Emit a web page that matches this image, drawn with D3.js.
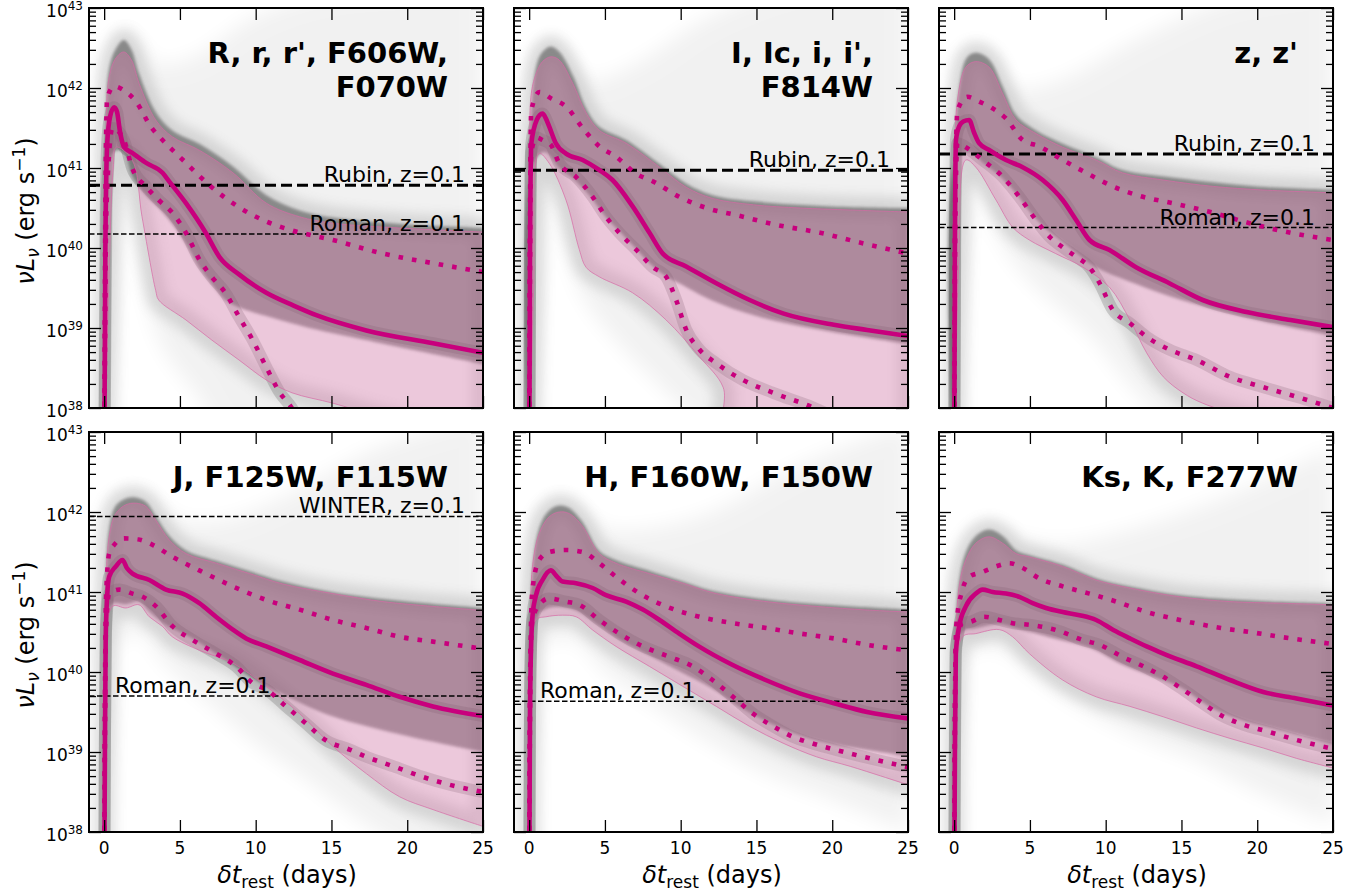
<!DOCTYPE html>
<html><head><meta charset="utf-8">
<script src="https://cdn.jsdelivr.net/npm/d3@7"></script>
<style>body{margin:0;background:#fff}svg{display:block}text{font-family:"DejaVu Sans",sans-serif;fill:#000}</style>
</head><body><svg id="c" width="1369" height="894"></svg>
<script>
// ---------- DATA (values are log10 of nuL_nu in erg/s, vs rest-frame days) ----------
const panelTitles = [["R, r, r', F606W,","F070W"],["I, Ic, i, i',","F814W"],["z, z'"],["J, F125W, F115W"],["H, F160W, F150W"],["Ks, K, F277W"]];
const xTicks = [0,5,10,15,20,25];
const yDecades = [38,39,40,41,42,43];

// R band
const medR=[[0,37],[0.08,40.0],[0.2,41.3],[0.4,41.65],[0.66,41.76],[0.85,41.7],[1.05,41.45],[1.32,41.26],[1.85,41.19],[2.8,41.06],[3.85,40.94],[4.3,40.83],[5.4,40.56],[6.7,40.19],[7.6,39.89],[8.9,39.67],[10.7,39.44],[12.5,39.28],[14,39.16],[17.3,38.97],[21.7,38.81],[25,38.69]];
const hiR=[[0,37],[0.1,41.0],[0.2,41.87],[0.66,42.02],[1.3,41.97],[2.1,41.83],[3.1,41.51],[3.85,41.35],[5.2,41.1],[7.1,40.76],[8.9,40.51],[10.7,40.33],[12.4,40.22],[15.1,40.1],[18.4,39.93],[21.7,39.81],[25,39.7]];
const loR=[[0,37],[0.15,40.5],[0.55,41.5],[1.3,41.35],[1.85,41.0],[2.8,40.76],[3.6,40.6],[4.5,40.44],[5.4,40.19],[6.3,39.85],[7.1,39.64],[8.0,39.44],[8.9,39.14],[9.8,38.85],[10.7,38.51],[11.6,38.19],[12.35,38.01],[13,37.8]];
const pinkHiR=[[0,37],[0.1,41.0],[0.33,42.14],[0.8,42.38],[1.3,42.45],[1.8,42.35],[2.3,42.06],[3.4,41.6],[4.5,41.39],[6.3,41.22],[8.5,40.94],[10.7,40.56],[12.9,40.39],[15.1,40.31],[19.5,40.25],[25,40.2]];
const pinkLoR=[[0,37],[0.3,39.5],[0.6,41.0],[0.8,41.26],[1.85,41.1],[2.5,40.39],[3.4,39.47],[3.6,39.35],[5.4,39.1],[7.1,38.85],[8.9,38.6],[10.7,38.35],[12.4,38.19],[15.1,38.06],[18,37.9],[25,37.6]];
const coreHiR=[[0,37],[0.1,41.2],[0.33,42.25],[0.8,42.5],[1.3,42.6],[1.8,42.48],[2.3,42.18],[3.4,41.7],[4.5,41.47],[6.3,41.3],[8.5,41.02],[10.7,40.66],[12.9,40.47],[15.1,40.38],[19.5,40.3],[25,40.25]];
const coreLoR=[[0,37],[0.2,40.5],[0.6,41.2],[1.3,41.2],[1.85,40.9],[2.8,40.65],[3.6,40.5],[4.5,40.3],[5.4,40.05],[6.3,39.75],[7.1,39.55],[8,39.35],[9,39.25],[10.7,39.15],[14,38.98],[18,38.82],[25,38.55]];
const envHiR=[[0,39],[0.15,41.8],[0.6,42.4],[1.3,42.75],[2.2,42.6],[3.5,42.3],[6,42.4],[10,42.9],[15,43.2],[25,43.3]];
const envLoR=[[0,37],[0.3,38.5],[0.7,40.0],[1.2,40.8],[1.6,40.7],[2.2,40.2],[3,39.2],[4,38.7],[6,38.2],[8,37.7],[25,37]];

// I band
const medI=[[0,37],[0.06,40.0],[0.14,41.3],[0.5,41.6],[0.88,41.68],[1.1,41.62],[1.32,41.52],[1.76,41.31],[2.43,41.18],[3.53,41.1],[4.63,40.975],[5.5,40.85],[6.83,40.52],[7.94,40.19],[8.82,39.93],[10.36,39.77],[12.35,39.56],[14.55,39.35],[16.8,39.18],[20.1,39.04],[22.3,38.975],[25,38.9]];
const hiI=[[0,37],[0.06,40.5],[0.14,41.72],[0.69,41.95],[1.46,41.87],[2.43,41.77],[3.53,41.5],[4.63,41.27],[5.74,41.14],[7.06,40.93],[8.2,40.83],[9.9,40.64],[11.7,40.5],[13.7,40.41],[16.3,40.29],[19.2,40.19],[22,40.06],[25,39.93]];
const loI=[[0,37],[0.08,40.5],[0.14,41.2],[0.5,41.38],[0.88,41.35],[1.43,41.29],[1.98,41.06],[3.09,40.89],[4.19,40.64],[5.07,40.39],[5.95,40.19],[7.06,39.98],[8.16,39.76],[9.04,39.64],[9.7,39.35],[10.36,38.98],[11.24,38.73],[12.35,38.56],[14.1,38.35],[16.1,38.19],[18.7,38.01],[20,37.9]];
const pinkHiI=[[0,37],[0.06,40.8],[0.14,41.93],[0.5,42.2],[0.88,42.33],[1.43,42.39],[1.98,42.35],[2.87,42.06],[3.75,41.69],[4.63,41.47],[6.4,41.31],[8.6,41.01],[10.36,40.76],[12.1,40.62],[14.8,40.54],[17.9,40.5],[21.2,40.475],[25,40.45]];
const pinkLoI=[[0,37],[0.3,39.5],[0.66,41.18],[1.32,41.06],[2.43,40.6],[3.31,39.98],[3.75,39.76],[4.63,39.64],[6.83,39.44],[9.04,39.1],[11.24,38.64],[12.8,38.26],[13.1,37.7],[25,37.5]];
const coreHiI=[[0,37],[0.1,41.5],[0.5,42.3],[0.88,42.45],[1.43,42.52],[2,42.45],[2.9,42.15],[3.75,41.75],[4.6,41.52],[6.4,41.35],[8.6,41.05],[10.4,40.8],[12.1,40.66],[15,40.58],[20,40.52],[25,40.5]];
const coreLoI=[[0,37],[0.14,41.0],[1,41.2],[2,41.0],[3,40.85],[4,40.65],[5,40.4],[6,40.2],[7,40.0],[8,39.8],[9,39.65],[10,39.55],[12,39.35],[15,39.15],[20,38.95],[25,38.8]];
const envHiI=[[0,39],[0.15,41.8],[0.8,42.5],[1.4,42.65],[2.5,42.4],[4,42.1],[7,42.3],[12,42.9],[18,43.3],[25,43.3]];
const envLoI=[[0,37],[0.3,38.5],[0.8,40.3],[1.5,40.8],[2.3,40.1],[3.5,39.4],[5,39.0],[8,38.4],[11,37.9],[25,37]];

// z band
const medZ=[[0,37],[0.05,40.0],[0.12,41.35],[0.33,41.52],[0.6,41.58],[0.99,41.6],[1.3,41.45],[1.65,41.31],[2.31,41.225],[3.42,41.1],[4.52,41.01],[5.84,40.85],[7.16,40.6],[8.05,40.35],[8.93,40.1],[10.25,39.975],[12,39.76],[14.2,39.56],[16.4,39.35],[19.3,39.2],[22.2,39.1],[25,39.01]];
const hiZ=[[0,37],[0.06,40.5],[0.22,41.72],[0.88,41.89],[1.65,41.83],[2.5,41.75],[3.42,41.62],[4.52,41.35],[5.62,41.27],[7.16,41.1],[8.71,40.94],[10.47,40.77],[12.46,40.64],[14.4,40.56],[17.1,40.44],[19.5,40.31],[22.2,40.19],[25,40.1]];
const loZ=[[0,37],[0.08,40.5],[0.22,41.31],[0.77,41.26],[1.87,41.1],[3.2,40.89],[4.3,40.64],[5.4,40.35],[6.3,40.14],[7.16,40.01],[8.05,39.89],[8.93,39.76],[9.6,39.56],[10.47,39.225],[11.6,39.06],[12.7,38.89],[14.2,38.73],[16,38.6],[18.2,38.39],[20.4,38.26],[22.6,38.14],[25,38.0]];
const pinkHiZ=[[0,37],[0.06,40.8],[0.22,41.85],[0.77,42.26],[1.43,42.33],[2.31,42.26],[3.2,41.93],[4.08,41.6],[5.4,41.43],[7.16,41.26],[9.37,41.1],[11.1,40.94],[13.8,40.85],[17.1,40.77],[20.4,40.725],[25,40.69]];
const pinkLoZ=[[0,37],[0.3,39.8],[0.77,41.1],[1.43,41.01],[2.76,40.6],[3.86,40.26],[4.96,40.1],[6.7,39.93],[8.5,39.76],[10.25,39.51],[11.6,39.1],[12.7,38.69],[13.8,38.39],[15.1,38.19],[16.4,38.06],[20,37.85],[25,37.7]];
const coreHiZ=[[0,37],[0.1,41.3],[0.3,41.95],[0.8,42.37],[1.4,42.44],[2.3,42.36],[3.2,42.02],[4.1,41.66],[5.4,41.47],[7.2,41.3],[9.4,41.13],[11,40.98],[14,40.89],[20,40.77],[25,40.73]];
const coreLoZ=[[0,37],[0.12,41.1],[1,41.2],[2,41.05],[3,40.9],[4,40.7],[5,40.45],[6,40.25],[7,40.1],[8,39.95],[9,39.8],[10,39.7],[12,39.55],[15,39.35],[20,39.1],[25,38.9]];
const envHiZ=[[0,39],[0.15,41.8],[0.8,42.4],[1.4,42.55],[2.4,42.4],[4,42.0],[7,42.1],[12,42.6],[18,43.1],[25,43.3]];
const envLoZ=[[0,37],[0.3,38.5],[0.8,40.5],[1.5,40.9],[2.5,40.3],[4,39.8],[6,39.4],[9,38.9],[12,38.2],[15,37.7],[25,37]];

// J band
const medJ=[[0,37],[0.05,39.0],[0.1,40.4],[0.2,40.95],[0.33,41.19],[0.77,41.32],[1.21,41.4],[1.5,41.3],[1.87,41.23],[2.98,41.15],[4.08,41.03],[5.18,40.98],[6.28,40.86],[7.38,40.69],[8.49,40.53],[9.37,40.42],[10.7,40.32],[12.9,40.15],[15.1,39.98],[17.3,39.84],[19.5,39.69],[21.7,39.57],[25,39.45]];
const hiJ=[[0,37],[0.05,39.5],[0.12,40.9],[0.33,41.48],[0.66,41.59],[1.32,41.67],[2.2,41.66],[3.2,41.59],[4.5,41.44],[6.28,41.27],[8.49,41.07],[10.7,40.9],[12.9,40.78],[15.1,40.65],[17.3,40.55],[19.5,40.44],[21.7,40.38],[25,40.29]];
const loJ=[[0,37],[0.05,39.2],[0.12,40.5],[0.33,40.98],[1.0,41.03],[1.87,40.98],[2.54,40.94],[3.42,40.82],[4.52,40.57],[5.84,40.4],[7.38,40.23],[8.71,40.07],[9.81,39.86],[10.7,39.78],[12.0,39.57],[13.3,39.36],[14.6,39.15],[16.2,39.03],[17.3,38.94],[19.1,38.82],[21,38.69],[22.8,38.59],[25,38.5]];
const pinkHiJ=[[0,37],[0.06,40.5],[0.33,41.69],[0.77,41.98],[1.43,42.09],[2.1,42.11],[2.76,42.07],[3.4,41.9],[4.3,41.65],[5.4,41.48],[7.4,41.36],[9.6,41.23],[11.8,41.1],[15.1,40.98],[18.4,40.88],[21.7,40.82],[25,40.77]];
const pinkLoJ=[[0,37],[0.15,39.5],[0.55,40.82],[1.43,40.8],[2.3,40.84],[2.98,40.69],[3.85,40.57],[4.5,40.44],[6.3,40.27],[8.5,40.11],[10.7,39.82],[12.9,39.48],[15.1,39.07],[17.3,38.73],[19.5,38.44],[21.7,38.28],[25,38.07]];
const coreHiJ=[[0,37],[0.1,41.0],[0.33,41.8],[0.77,42.08],[1.43,42.17],[2.1,42.18],[2.8,42.12],[3.4,41.95],[4.3,41.7],[5.4,41.52],[7.4,41.39],[9.6,41.26],[11.8,41.13],[15,41.0],[20,40.88],[25,40.8]];
const coreLoJ=[[0,37],[0.1,40.3],[0.5,40.85],[1.5,40.85],[2.3,40.88],[3,40.75],[4,40.6],[6,40.4],[8,40.15],[10,39.9],[12,39.7],[15,39.45],[20,39.2],[25,39.0]];
const envHiJ=[[0,39],[0.2,41.6],[0.8,42.15],[2,42.3],[3,42.2],[5,41.9],[8,41.9],[12,42.2],[18,42.8],[25,43.2]];
const envLoJ=[[0,37],[0.2,39.0],[0.6,40.3],[2.3,40.5],[4,40.1],[7,39.6],[10,39.1],[13,38.7],[18,38.0],[22,37.6],[25,37.4]];

// H band
const medH=[[0,37],[0.05,39.3],[0.1,40.1],[0.22,40.7],[0.44,40.95],[0.88,41.15],[1.43,41.27],[1.8,41.2],[2.2,41.13],[3.1,41.11],[4.19,41.05],[5.07,40.96],[6.4,40.88],[7.5,40.78],[8.6,40.65],[9.9,40.48],[11.2,40.32],[13.4,40.09],[15.6,39.9],[17.9,39.73],[20.1,39.61],[22.3,39.5],[25,39.42]];
const hiH=[[0,37],[0.05,39.5],[0.1,40.4],[0.22,41.03],[0.66,41.4],[1.32,41.5],[2.43,41.525],[3.53,41.5],[4.63,41.36],[5.73,41.19],[7.3,40.98],[9.04,40.82],[11.24,40.69],[13.45,40.61],[15.65,40.55],[17.9,40.48],[20.1,40.42],[22.3,40.34],[25,40.27]];
const loH=[[0,37],[0.05,39.4],[0.1,40.2],[0.22,40.65],[0.66,40.84],[1.32,40.92],[2.43,40.88],[3.31,40.84],[4.63,40.65],[5.95,40.48],[7.5,40.32],[9.26,40.19],[10.8,40.07],[12.1,39.9],[13.45,39.69],[14.77,39.48],[16.1,39.32],[17.4,39.19],[19,39.09],[21.2,38.98],[25,38.81]];
const pinkHiH=[[0,37],[0.06,40.3],[0.22,41.32],[0.66,41.73],[1.32,41.94],[1.98,42.0],[2.65,41.98],[3.53,41.82],[4.63,41.48],[5.73,41.36],[7.94,41.23],[10.14,41.11],[12.35,40.98],[15.65,40.88],[18.96,40.82],[22.3,40.775],[25,40.75]];
const pinkLoH=[[0,37],[0.15,39.8],[0.44,40.65],[1.1,40.69],[2.2,40.71],[3.1,40.69],[4.19,40.525],[5.73,40.32],[7.94,40.07],[10.14,39.82],[12.35,39.57],[14.55,39.32],[16.76,39.11],[18.96,38.94],[21.2,38.82],[25,38.59]];
const coreHiH=[[0,37],[0.1,40.9],[0.66,41.8],[1.32,42.02],[2,42.08],[2.65,42.05],[3.5,41.88],[4.6,41.52],[5.7,41.4],[8,41.26],[10,41.14],[12,41.02],[15.6,40.91],[19,40.85],[25,40.78]];
const coreLoH=[[0,37],[0.1,40.2],[0.5,40.7],[1.3,40.8],[2.5,40.8],[3.3,40.75],[4.6,40.58],[6,40.4],[8,40.2],[10,40.0],[12,39.8],[14,39.55],[16,39.35],[18,39.2],[20,39.1],[25,38.95]];
const envHiH=[[0,39],[0.2,41.5],[0.8,42.0],[2,42.2],[3,42.1],[5,41.8],[8,41.8],[12,42.0],[18,42.6],[25,43.1]];
const envLoH=[[0,37],[0.2,39.2],[0.6,40.3],[3,40.4],[5,40.0],[8,39.6],[12,39.1],[16,38.7],[20,38.4],[25,38.0]];

// Ks band
const medK=[[0,37],[0.05,39.0],[0.11,40.23],[0.33,40.57],[0.77,40.82],[1.43,40.98],[1.87,41.03],[2.54,41.0],[3.42,40.98],[4.3,40.94],[5.18,40.86],[6.06,40.8],[7.16,40.75],[8.27,40.71],[9.37,40.65],[10.5,40.525],[11.6,40.42],[12.7,40.32],[13.8,40.23],[16,40.07],[18.2,39.9],[20.4,39.75],[22.6,39.67],[25,39.58]];
const hiK=[[0,37],[0.05,39.5],[0.15,40.6],[0.55,41.03],[0.99,41.19],[1.87,41.25],[2.76,41.32],[3.64,41.36],[4.52,41.3],[5.62,41.17],[7.16,41.07],[8.93,40.98],[10.7,40.88],[12.7,40.75],[14.9,40.65],[17.6,40.55],[19.5,40.5],[21.5,40.44],[25,40.35]];
const loK=[[0,37],[0.05,39.3],[0.11,40.3],[0.55,40.61],[1.1,40.63],[1.98,40.69],[2.98,40.65],[3.86,40.61],[4.96,40.59],[6.72,40.525],[8.49,40.4],[9.6,40.34],[11.1,40.19],[12.5,40.07],[13.8,39.94],[15.1,39.78],[16.4,39.61],[17.8,39.44],[19.1,39.34],[20.8,39.25],[22.6,39.15],[25,39.04]];
const pinkHiK=[[0,37],[0.06,40.0],[0.33,41.07],[0.77,41.4],[1.43,41.61],[2.3,41.69],[3.2,41.61],[4.08,41.48],[4.96,41.44],[7.16,41.32],[9.37,41.15],[11.6,41.05],[14.9,40.94],[18.2,40.88],[21.5,40.86],[25,40.84]];
const pinkLoK=[[0,37],[0.15,39.6],[0.55,40.44],[1.43,40.48],[2.98,40.53],[3.86,40.44],[4.96,40.23],[7.16,39.9],[9.37,39.69],[11.6,39.57],[13.8,39.44],[16,39.3],[18.2,39.17],[20.4,39.05],[22.6,38.92],[25,38.8]];
const coreHiK=[[0,37],[0.1,40.5],[0.33,41.15],[0.77,41.5],[1.43,41.7],[2.3,41.78],[3.2,41.7],[4.1,41.52],[5,41.46],[7.2,41.34],[9.4,41.17],[11.6,41.07],[15,40.96],[20,40.89],[25,40.86]];
const coreLoK=[[0,37],[0.1,40.2],[0.5,40.5],[1.5,40.55],[3,40.6],[4,40.55],[5,40.5],[7,40.4],[9,40.3],[11,40.1],[13,39.95],[15,39.8],[17,39.55],[19,39.4],[21,39.3],[25,39.1]];
const envHiK=[[0,39],[0.2,41.0],[1,41.6],[2.5,41.85],[4,41.7],[7,41.6],[12,41.8],[18,42.2],[25,42.8]];
const envLoK=[[0,37],[0.2,39.5],[0.6,40.2],[3,40.3],[5,40.0],[8,39.6],[12,39.2],[16,38.9],[20,38.5],[25,38.1]];

// detection limits (erg/s)
const limitsR=[{name:"Rubin, z=0.1",value:6.1e40,thick:true,left:false},{name:"Roman, z=0.1",value:1.5e40,thick:false,left:false}];
const limitsI=[{name:"Rubin, z=0.1",value:9.4e40,thick:true,left:false}];
const limitsZ=[{name:"Rubin, z=0.1",value:1.5e41,thick:true,left:false},{name:"Roman, z=0.1",value:1.8e40,thick:false,left:false}];
const limitsJ=[{name:"WINTER, z=0.1",value:8.8e41,thick:false,left:false},{name:"Roman, z=0.1",value:5.0e39,thick:false,left:true}];
const limitsH=[{name:"Roman, z=0.1",value:4.3e39,thick:false,left:true}];
const limitsK=[];

const panels=[
 {med:medR,hi:hiR,lo:loR,pinkHi:pinkHiR,pinkLo:pinkLoR,coreHi:coreHiR,coreLo:coreLoR,envHi:envHiR,envLo:envLoR,limits:limitsR},
 {med:medI,hi:hiI,lo:loI,pinkHi:pinkHiI,pinkLo:pinkLoI,coreHi:coreHiI,coreLo:coreLoI,envHi:envHiI,envLo:envLoI,limits:limitsI},
 {med:medZ,hi:hiZ,lo:loZ,pinkHi:pinkHiZ,pinkLo:pinkLoZ,coreHi:coreHiZ,coreLo:coreLoZ,envHi:envHiZ,envLo:envLoZ,limits:limitsZ},
 {med:medJ,hi:hiJ,lo:loJ,pinkHi:pinkHiJ,pinkLo:pinkLoJ,coreHi:coreHiJ,coreLo:coreLoJ,envHi:envHiJ,envLo:envLoJ,limits:limitsJ},
 {med:medH,hi:hiH,lo:loH,pinkHi:pinkHiH,pinkLo:pinkLoH,coreHi:coreHiH,coreLo:coreLoH,envHi:envHiH,envLo:envLoH,limits:limitsH},
 {med:medK,hi:hiK,lo:loK,pinkHi:pinkHiK,pinkLo:pinkLoK,coreHi:coreHiK,coreLo:coreLoK,envHi:envHiK,envLo:envLoK,limits:limitsK}
];

// ---------- LAYOUT ----------
const svg=d3.select("#c");
const W=394,H=400;
const colX=[89,514,939], rowY=[8,432];
const MAG="#c8007d";
const x=d3.scaleLinear().domain([-1,25]).range([0,W]);
const y=d3.scaleLog().domain([1e38,1e43]).range([H,0]);
const px=d=>x(d[0]), py=d=>y(Math.pow(10,d[1]));
const lineM=d3.line().x(px).y(py).curve(d3.curveMonotoneX);
const lineC=d3.line().x(px).y(py).curve(d3.curveCatmullRom.alpha(0.5));
const band=(up,lo)=>lineC(up)+"L"+lineC(lo.slice().reverse()).slice(1)+"Z";

const defs=svg.append("defs");
const f1=defs.append("filter").attr("id","blurEnv").attr("x","-20%").attr("y","-20%").attr("width","140%").attr("height","140%");
f1.append("feGaussianBlur").attr("stdDeviation",10);
const f2=defs.append("filter").attr("id","blurHalo").attr("x","-20%").attr("y","-20%").attr("width","140%").attr("height","140%");
f2.append("feGaussianBlur").attr("stdDeviation",6);
const f3=defs.append("filter").attr("id","blurCore").attr("x","-10%").attr("y","-10%").attr("width","120%").attr("height","120%");
f3.append("feGaussianBlur").attr("stdDeviation",1.5);
defs.append("clipPath").attr("id","clipP").append("rect").attr("width",W).attr("height",H);

const majors=yDecades.map(d=>Math.pow(10,d));
const minors=[];
yDecades.slice(0,-1).forEach(d=>{for(let m=2;m<10;m++)minors.push(m*Math.pow(10,d));});

panels.forEach((p,i)=>{
  const col=i%3,row=Math.floor(i/3);
  const g=svg.append("g").attr("transform",`translate(${colX[col]},${rowY[row]})`);
  const gc=g.append("g").attr("clip-path","url(#clipP)");
  // faint spaghetti envelope
  gc.append("path").attr("d",band(p.envHi,p.envLo)).attr("fill","#000").attr("opacity",0.05).attr("filter","url(#blurEnv)");
  // halo of denser tracks just outside the band
  gc.append("path").attr("d",band(p.coreHi,p.pinkLo)).attr("fill","none").attr("stroke","#666").attr("stroke-width",22).attr("opacity",0.2).attr("filter","url(#blurHalo)");
  // dense core of tracks
  gc.append("path").attr("d",band(p.coreHi,p.coreLo)).attr("fill","#4a4a4a").attr("opacity",0.55).attr("filter","url(#blurCore)");
  // dense strands following the median and lower curves
  [p.med,p.lo].forEach(s=>gc.append("path").attr("d",lineM(s)).attr("fill","none").attr("stroke","#4a4a4a").attr("stroke-width",12).attr("opacity",0.22));
  // percentile band
  gc.append("path").attr("d",band(p.pinkHi,p.pinkLo)).attr("fill","rgb(225,120,175)").attr("fill-opacity",0.34).attr("stroke","rgb(215,105,165)").attr("stroke-opacity",0.7).attr("stroke-width",1);
  // detection limits
  p.limits.forEach(L=>{
    gc.append("line").attr("x1",0).attr("x2",W).attr("y1",y(L.value)).attr("y2",y(L.value))
      .attr("stroke","#000").attr("stroke-width",L.thick?3:1.5).attr("stroke-dasharray",L.thick?"11,5":"5.5,2.5");
  });
  // curves
  gc.append("path").attr("d",lineM(p.med)).attr("fill","none").attr("stroke",MAG).attr("stroke-width",4.6);
  [p.hi,p.lo].forEach(s=>gc.append("path").attr("d",lineM(s)).attr("fill","none").attr("stroke",MAG).attr("stroke-width",4.6).attr("stroke-dasharray","4.6,9"));
  // limit labels
  p.limits.forEach(L=>{
    const t=g.append("text").attr("font-size",22).attr("y",y(L.value)-3).text(L.name);
    if(L.left) t.attr("x",26).attr("text-anchor","start"); else t.attr("x",W-18).attr("text-anchor","end");
  });
  // title
  panelTitles[i].forEach((s,k)=>g.append("text").attr("x",W-35).attr("y",55+34*k).attr("text-anchor","end").attr("font-size",29).attr("font-weight","bold").text(s));
  // axes (inward ticks on all sides)
  g.append("g").attr("transform",`translate(0,${H})`).call(d3.axisBottom(x).tickValues(xTicks).tickSize(-12).tickFormat(""));
  g.append("g").call(d3.axisTop(x).tickValues(xTicks).tickSize(-12).tickFormat(""));
  g.append("g").call(d3.axisLeft(y).tickValues(majors).tickSize(-12).tickFormat(""));
  g.append("g").call(d3.axisLeft(y).tickValues(minors).tickSize(-7).tickFormat(""));
  g.append("g").attr("transform",`translate(${W},0)`).call(d3.axisRight(y).tickValues(majors).tickSize(-12).tickFormat(""));
  g.append("g").attr("transform",`translate(${W},0)`).call(d3.axisRight(y).tickValues(minors).tickSize(-7).tickFormat(""));
  g.selectAll(".domain").remove();
  g.selectAll(".tick line").attr("stroke","#000").attr("stroke-width",1.3);
  // tick labels
  if(row===1){
    xTicks.forEach(v=>g.append("text").attr("x",x(v)).attr("y",H+22).attr("text-anchor","middle").attr("font-size",17).text(v));
    const xl=g.append("text").attr("x",W/2+1).attr("y",H+51).attr("text-anchor","middle").attr("font-size",24);
    xl.append("tspan").attr("font-style","italic").text("δt");
    xl.append("tspan").attr("font-size",17).attr("dy",5).text("rest");
    xl.append("tspan").attr("dy",-5).text(" (days)");
  }
  if(col===0){
    yDecades.forEach(d=>{
      const t=g.append("text").attr("x",-6).attr("y",y(Math.pow(10,d))+9).attr("text-anchor","end").attr("font-size",17);
      t.append("tspan").text("10");
      t.append("tspan").attr("font-size",12).attr("dy",-7).text(d);
    });
    const yl=g.append("text").attr("transform",`translate(${34-colX[0]},${H/2+3}) rotate(-90)`).attr("text-anchor","middle").attr("font-size",24);
    yl.append("tspan").attr("font-style","italic").text("νL");
    yl.append("tspan").attr("font-style","italic").attr("font-size",17).attr("dy",5).text("ν");
    yl.append("tspan").attr("dy",-5).text(" (erg s");
    yl.append("tspan").attr("font-size",17).attr("dy",-9).text("−1");
    yl.append("tspan").attr("dy",9).text(")");
  }
  // frame
  g.append("rect").attr("width",W).attr("height",H).attr("fill","none").attr("stroke","#000").attr("stroke-width",2);
});
</script></body></html>
